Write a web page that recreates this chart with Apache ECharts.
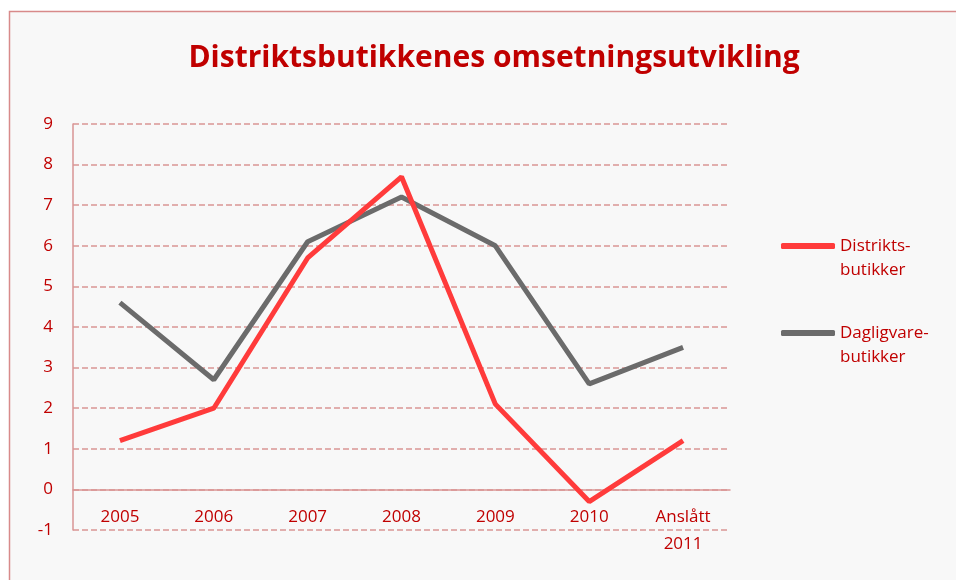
<!DOCTYPE html>
<html>
<head>
<meta charset="utf-8">
<script src="https://cdn.jsdelivr.net/npm/echarts@6/dist/echarts.min.js"></script>
<style>
  html, body { margin: 0; padding: 0; background: #ffffff; }
  #chart { width: 956px; height: 580px; }
</style>
</head>
<body>
<div id="chart"></div>
<script>
var years = ['2005', '2006', '2007', '2008', '2009', '2010', 'Anslått\n2011'];
var distrikts = [1.2, 2.0, 5.7, 7.7, 2.1, -0.3, 1.2];
var dagligvare = [4.6, 2.7, 6.1, 7.2, 6.0, 2.6, 3.5];

var dom = document.getElementById('chart');
var myChart = echarts.init(dom, null, { renderer: 'canvas' });
var red = '#c00000';
var gridColor = '#d99594';
var font = 'Open Sans';

var option = {
  animation: false,
  textStyle: { fontFamily: font },
  graphic: [{
    type: 'rect',
    z: -10,
    shape: { x: 9.5, y: 11.5, width: 1000, height: 700 },
    style: { fill: '#f8f8f8', stroke: '#d88a8a', lineWidth: 1.5 }
  }],
  title: {
    text: 'Distriktsbutikkenes omsetningsutvikling',
    left: 489, top: 38, textAlign: 'center',
    textStyle: { color: red, fontSize: 30, fontWeight: 'bold', fontFamily: font }
  },
  legend: {
    orient: 'vertical',
    left: 776, top: 205,
    itemWidth: 54, itemHeight: 6, itemGap: 15,
    icon: 'roundRect',
    textStyle: { color: red, fontSize: 17, lineHeight: 24 },
    formatter: function (n) { return n === 'Distriktsbutikker' ? '\nDistrikts-\nbutikker' : '\nDagligvare-\nbutikker'; },
    data: ['Distriktsbutikker', 'Dagligvarebutikker']
  },
  grid: { left: 73, right: 226, top: 124, bottom: 50, outerBoundsMode: 'none' },
  xAxis: {
    type: 'category',
    data: years,
    boundaryGap: true,
    axisLine: { onZero: true, lineStyle: { color: gridColor, width: 1.5 } },
    axisTick: { show: false },
    axisLabel: { color: red, fontSize: 17, margin: -26, lineHeight: 27, verticalAlign: 'top' }
  },
  yAxis: {
    type: 'value',
    min: -1, max: 9, interval: 1,
    axisLine: { show: true, lineStyle: { color: gridColor, width: 1.5 } },
    axisTick: { show: false },
    axisLabel: { color: red, fontSize: 17, margin: 20 },
    splitLine: { lineStyle: { color: gridColor, type: [6, 3], width: 1.5 } }
  },
  series: [
    {
      name: 'Distriktsbutikker', type: 'line', data: distrikts,
      symbol: 'none', z: 3,
      lineStyle: { color: '#ff3b3b', width: 5 },
      itemStyle: { color: '#ff3b3b' }
    },
    {
      name: 'Dagligvarebutikker', type: 'line', data: dagligvare,
      symbol: 'none', z: 2,
      lineStyle: { color: '#6b6b6b', width: 5 },
      itemStyle: { color: '#6b6b6b' }
    }
  ]
};

if (option && typeof option === 'object') {
  myChart.setOption(option);
}
</script>
</body>
</html>
